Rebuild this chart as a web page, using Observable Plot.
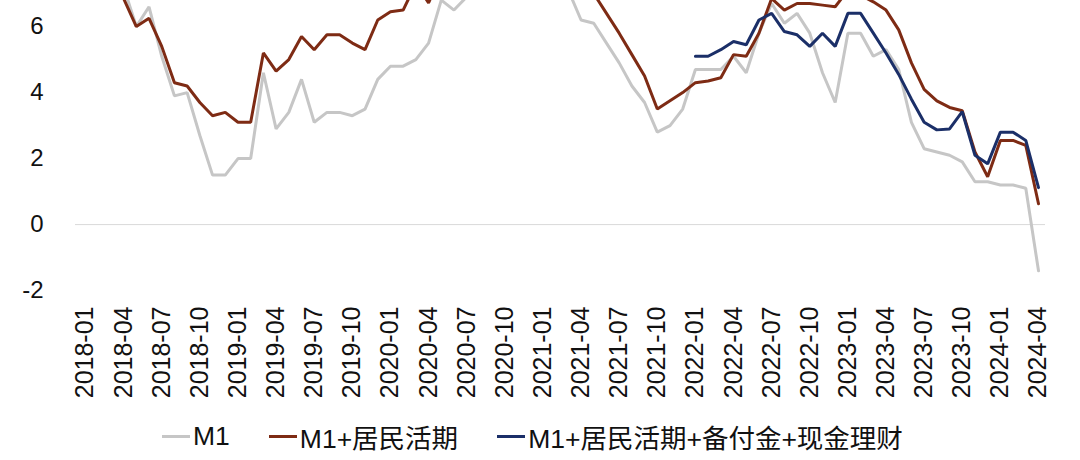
<!DOCTYPE html>
<html>
<head>
<meta charset="utf-8">
<script src="https://cdn.jsdelivr.net/npm/d3@7"></script>
<script src="https://cdn.jsdelivr.net/npm/@observablehq/plot@0.6"></script>
<style>
  html, body { margin: 0; padding: 0; background: #fff; }
  #wrap { position: relative; width: 1080px; height: 460px; overflow: hidden; }
  #legend { position: absolute; left: 162px; top: 417px; display: flex; align-items: center;
    font-family: "Liberation Sans", Arial, "Noto Sans CJK SC", sans-serif; font-size: 26.5px; color: #111; white-space: nowrap; }
  .item { display: flex; align-items: center; margin-right: 39px; }
  .sw { display: inline-block; width: 28px; height: 3px; margin-right: 3px; }
</style>
</head>
<body>
<div id="wrap"><div id="chart"></div><div id="legend"></div></div>
<script>
// Monthly categories 2018-01 .. 2024-04
const months = d3.utcMonths(new Date(Date.UTC(2018, 0, 1)), new Date(Date.UTC(2024, 4, 1))).map(d3.utcFormat("%Y-%m"));

const tickLabels = ["2018-01","2018-04","2018-07","2018-10","2019-01","2019-04","2019-07","2019-10",
  "2020-01","2020-04","2020-07","2020-10","2021-01","2021-04","2021-07","2021-10",
  "2022-01","2022-04","2022-07","2022-10","2023-01","2023-04","2023-07","2023-10","2024-01","2024-04"];

const yTicks = [-2, 0, 2, 4, 6];

const seriesNames = ["M1", "M1+居民活期", "M1+居民活期+备付金+现金理财"];

// M1 YoY (%), 2018-01 .. 2024-04
const m1 = [
  8.5, 8.5, 7.1, 7.2, 6.0, 6.6, 5.1, 3.9, 4.0, 2.7, 1.5, 1.5,
  2.0, 2.0, 4.6, 2.9, 3.4, 4.4, 3.1, 3.4, 3.4, 3.3, 3.5, 4.4,
  4.8, 4.8, 5.0, 5.5, 6.8, 6.5, 6.9, 8.0, 8.1, 9.1, 10.0, 8.6,
  7.4, 7.4, 7.1, 6.2, 6.1, 5.5, 4.9, 4.2, 3.7, 2.8, 3.0, 3.5,
  4.7, 4.7, 4.7, 5.1, 4.6, 5.8, 6.7, 6.1, 6.4, 5.8, 4.6, 3.7,
  5.8, 5.8, 5.1, 5.3, 4.7, 3.1, 2.3, 2.2, 2.1, 1.9, 1.3, 1.3,
  1.2, 1.2, 1.1, -1.4
];

// M1 + household demand deposits, 2018-01 .. 2024-04
const m1Household = [
  9.6, 8.4, 7.4, 6.85, 6.0, 6.25, 5.4, 4.3, 4.2, 3.7, 3.3, 3.4,
  3.1, 3.1, 5.2, 4.65, 5.0, 5.7, 5.3, 5.75, 5.75, 5.5, 5.3, 6.2,
  6.45, 6.5, 7.3, 6.72, 7.6, 7.7, 8.0, 8.6, 8.8, 9.5, 10.2, 9.6,
  8.8, 8.4, 7.9, 7.3, 7.0, 6.4, 5.8, 5.15, 4.5, 3.5, 3.75, 4.0,
  4.3, 4.35, 4.45, 5.15, 5.1, 5.8, 6.85, 6.5, 6.7, 6.7, 6.65, 6.6,
  7.1, 6.95, 6.75, 6.5, 5.9, 4.9, 4.1, 3.75, 3.55, 3.45, 2.2, 1.45,
  2.55, 2.55, 2.4, 0.63
];

// M1 + household demand + reserve funds + cash wealth products, 2022-01 .. 2024-04
const broadStart = "2022-01";
const m1Broad = [
  5.1, 5.1, 5.3, 5.55, 5.45, 6.2, 6.4, 5.85, 5.75, 5.4, 5.8, 5.4,
  6.4, 6.4, 5.8, 5.2, 4.55, 3.8, 3.1, 2.87, 2.9, 3.42, 2.1, 1.84,
  2.8, 2.8, 2.55, 1.12
];

const colors = ["#c6c6c6", "#7e2b14", "#1b2f68"];

const startIdx = months.indexOf(broadStart);
const rows = [];
months.forEach((m, i) => rows.push({month: m, value: m1[i], series: seriesNames[0]}));
months.forEach((m, i) => rows.push({month: m, value: m1Household[i], series: seriesNames[1]}));
m1Broad.forEach((v, i) => rows.push({month: months[startIdx + i], value: v, series: seriesNames[2]}));

const font = "'Liberation Sans', Arial, 'Noto Sans CJK SC', sans-serif";

const chart = Plot.plot({
  width: 1080,
  height: 412,
  marginTop: 0,
  marginLeft: 75,
  marginRight: 35,
  marginBottom: 112,
  style: {fontFamily: font, color: "#111", background: "#fff", overflow: "visible"},
  x: {type: "point", domain: months, padding: 0.669, align: 0.588},
  y: {domain: [-2.3, 6.79]},
  marks: [
    Plot.ruleY([0], {stroke: "#d9d9d9", strokeWidth: 1}),
    Plot.axisY(yTicks, {tickSize: 0, tickPadding: 32, fontSize: 24, label: null, tickFormat: d => String(d)}),
    Plot.axisX(tickLabels, {tickSize: 0, tickPadding: 6, tickRotate: -90, fontSize: 25, label: null}),
    ...seriesNames.map((name, k) =>
      Plot.lineY(rows.filter(d => d.series === name), {
        x: "month", y: "value", stroke: colors[k], strokeWidth: 3,
        strokeLinejoin: "miter", clip: true
      }))
  ]
});
document.getElementById("chart").appendChild(chart);

const legend = document.getElementById("legend");
seriesNames.forEach((name, k) => {
  const item = document.createElement("div");
  item.className = "item";
  const sw = document.createElement("span");
  sw.className = "sw";
  sw.style.background = colors[k];
  const tx = document.createElement("span");
  tx.textContent = name;
  item.appendChild(sw);
  item.appendChild(tx);
  legend.appendChild(item);
});
</script>
</body>
</html>
